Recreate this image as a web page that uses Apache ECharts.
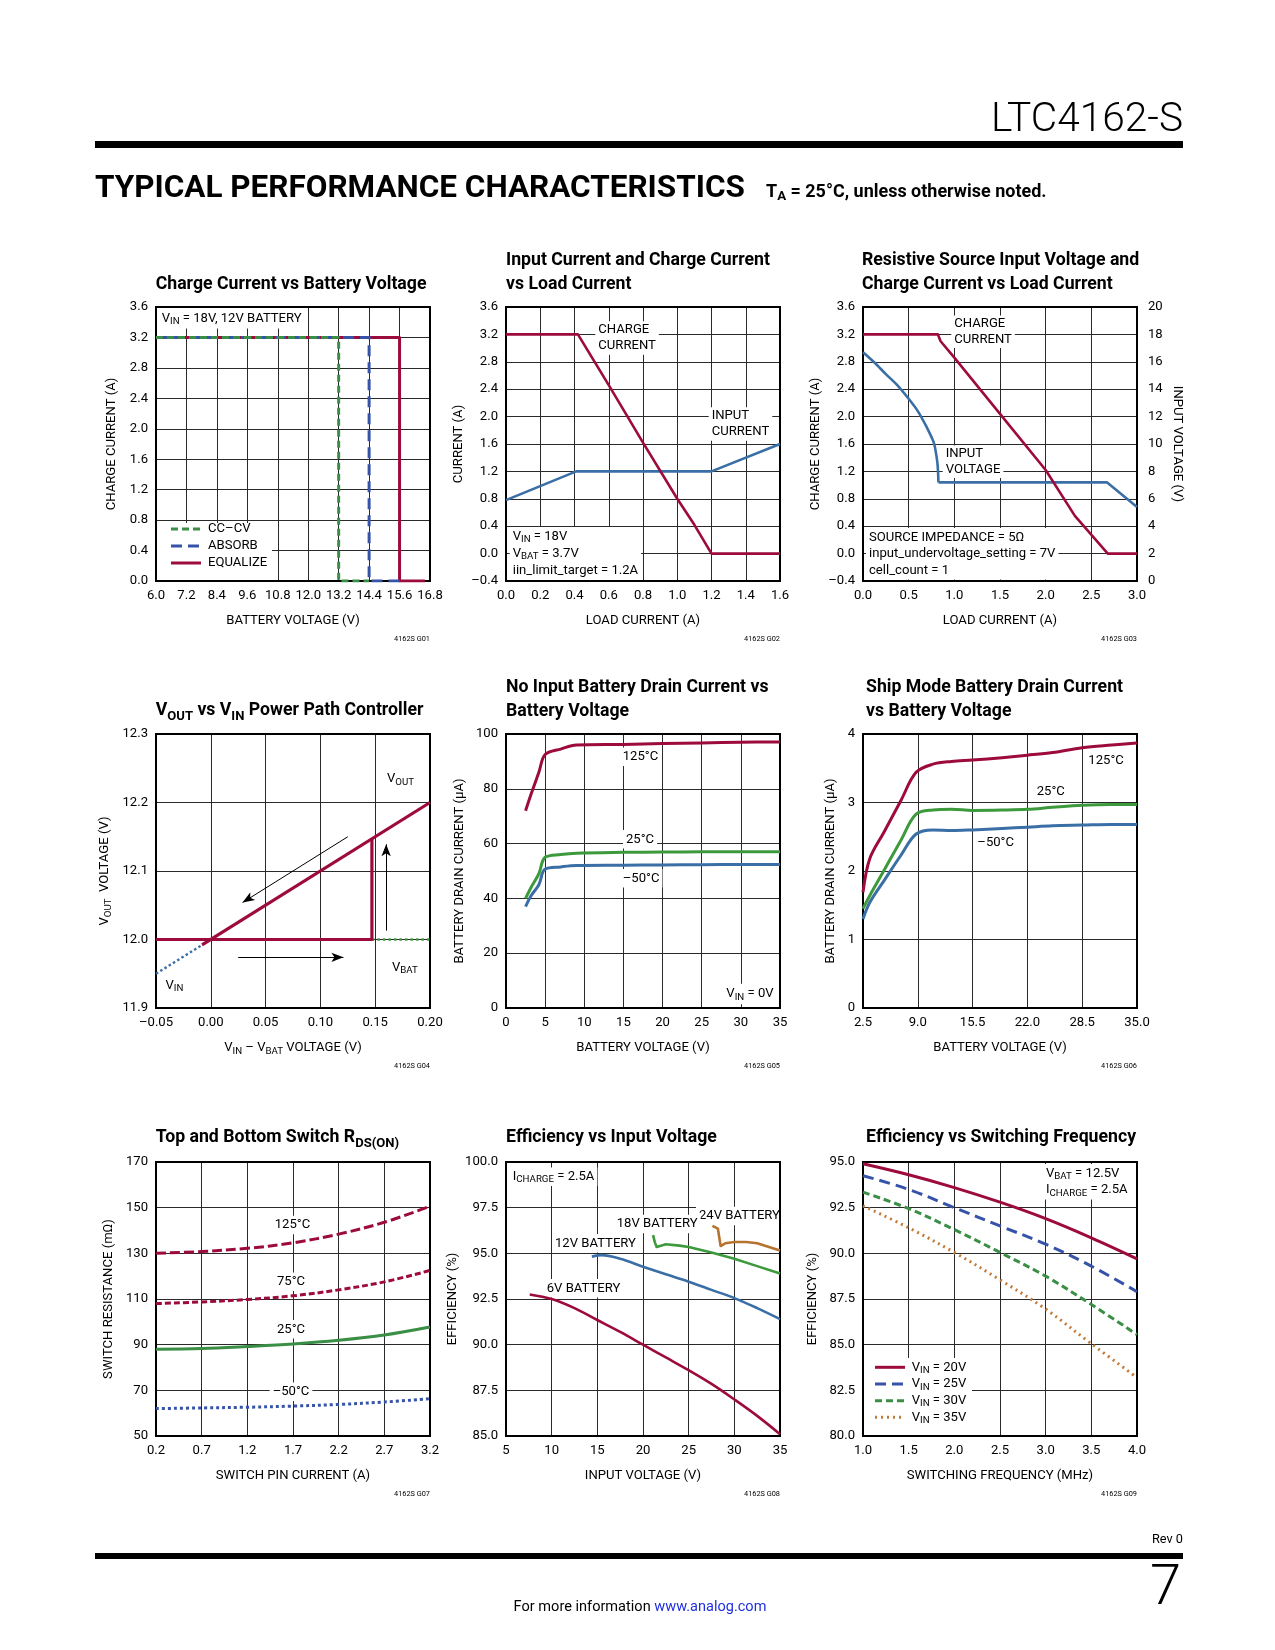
<!DOCTYPE html>
<html><head><meta charset="utf-8">
<script src="https://cdn.jsdelivr.net/npm/echarts@6/dist/echarts.min.js"></script>
<style>html,body{margin:0;padding:0;background:#fff}#page{width:1275px;height:1650px}</style>
</head><body><div id="page"></div>
<script>
// ================= DATA =================
const titles = [
  'Charge Current vs Battery Voltage',
  'Input Current and Charge Current\nvs Load Current',
  'Resistive Source Input Voltage and\nCharge Current vs Load Current',
  'V_{OUT} vs V_{IN} Power Path Controller',
  'No Input Battery Drain Current vs\nBattery Voltage',
  'Ship Mode Battery Drain Current\nvs Battery Voltage',
  'Top and Bottom Switch R_{DS(ON)}',
  'Efficiency vs Input Voltage',
  'Efficiency vs Switching Frequency'
];
const xNames = ['BATTERY VOLTAGE (V)','LOAD CURRENT (A)','LOAD CURRENT (A)','V_{IN} \u2013 V_{BAT} VOLTAGE (V)',
  'BATTERY VOLTAGE (V)','BATTERY VOLTAGE (V)','SWITCH PIN CURRENT (A)','INPUT VOLTAGE (V)','SWITCHING FREQUENCY (MHz)'];
const yNames = ['CHARGE CURRENT (A)','CURRENT (A)','CHARGE CURRENT (A)','V_{OUT}  VOLTAGE (V)',
  'BATTERY DRAIN CURRENT (\u00b5A)','BATTERY DRAIN CURRENT (\u00b5A)','SWITCH RESISTANCE (m\u03a9)','EFFICIENCY (%)','EFFICIENCY (%)'];
const y3RightName = 'INPUT VOLTAGE (V)';
const figIds = ['4162S G01','4162S G02','4162S G03','4162S G04','4162S G05','4162S G06','4162S G07','4162S G08','4162S G09'];
// [min, max, interval, decimals]
const xRanges = [[6.0,16.8,1.2,1],[0,1.6,0.2,1],[0,3.0,0.5,1],[-0.05,0.20,0.05,2],[0,35,5,0],[2.5,35,6.5,1],[0.2,3.2,0.5,1],[5,35,5,0],[1.0,4.0,0.5,1]];
const yRanges = [[0,3.6,0.4,1],[-0.4,3.6,0.4,1],[-0.4,3.6,0.4,1],[11.9,12.3,0.1,1],[0,100,20,0],[0,4,1,0],[50,170,20,0],[85,100,2.5,1],[80,95,2.5,1]];
const y3Right = [0,20,2,0];

// Chart 1: charge current vs battery voltage
const c1_ccv      = [[6.0,3.2],[13.2,3.2],[13.2,0],[14.4,0]];
const c1_absorb   = [[6.0,3.2],[14.4,3.2],[14.4,0],[15.6,0]];
const c1_equalize = [[6.0,3.2],[15.6,3.2],[15.6,0],[16.6,0]];

// Chart 2
const c2_chargeX = [0, 0.42, 0.6, 0.8, 1.0, 1.1, 1.2, 1.6];
const c2_charge  = [3.2, 3.2, 2.46, 1.62, 0.8, 0.42, 0, 0];
const c2_inputX  = [0, 0.41, 1.2, 1.6];
const c2_input   = [0.78, 1.2, 1.2, 1.6];

// Chart 3
const c3_chargeX = [0, 0.82, 0.85, 1.0, 1.5, 2.0, 2.32, 2.68, 3.0];
const c3_charge  = [3.2, 3.2, 3.1, 2.86, 2.04, 1.22, 0.55, 0, 0];
const c3_vinCurveX = [0, 0.125, 0.25, 0.375, 0.5, 0.6, 0.7, 0.75, 0.78, 0.8, 0.815, 0.822, 0.826];
const c3_vinCurve  = [16.7, 15.95, 15.1, 14.3, 13.3, 12.4, 11.2, 10.5, 10.0, 9.3, 8.6, 7.9, 7.2];
const c3_vinFlatX  = [0.826, 2.67, 3.0];
const c3_vinFlat   = [7.2, 7.2, 5.4];

// Chart 4
const c4_voutFlat = [[-0.05,12.0],[0.147,12.0],[0.147,12.148]];
const c4_voutRamp = [[-0.008,11.992],[0.2,12.2]];
const c4_vin      = [[-0.05,11.95],[-0.008,11.992]];
const c4_vbat     = [[0.147,12.0],[0.2,12.0]];
const c4_arrows   = [[[0.125,12.15],[0.029,12.054]],[[0.025,11.974],[0.121,11.974]],[[0.16,12.013],[0.16,12.139]]];

// Chart 5
const c5_x    = [2.5, 3.2, 4.2, 5, 7, 9, 15, 20, 25, 30, 35];
const c5_125  = [72, 78, 86, 92.5, 94.5, 96, 96.2, 96.5, 96.7, 97, 97.1];
const c5_25   = [40, 44, 49, 55, 56, 56.5, 56.8, 56.9, 57, 57, 57];
const c5_m50  = [37, 41, 45, 50.7, 51.5, 52, 52.1, 52.2, 52.3, 52.4, 52.4];

// Chart 6
const c6_x    = [2.5, 3.3, 5, 7, 8.8, 10.8, 13, 15.5, 19, 22, 25, 28.5, 32, 35];
const c6_125  = [1.69, 2.18, 2.57, 3.03, 3.44, 3.56, 3.6, 3.62, 3.655, 3.69, 3.73, 3.8, 3.84, 3.87];
const c6_25   = [1.45, 1.64, 2.01, 2.45, 2.83, 2.89, 2.9, 2.885, 2.89, 2.9, 2.93, 2.96, 2.97, 2.97];
const c6_m50  = [1.3, 1.54, 1.86, 2.23, 2.54, 2.6, 2.59, 2.6, 2.62, 2.64, 2.66, 2.67, 2.68, 2.68];

// Chart 7
const c7_x    = [0.2, 0.7, 1.2, 1.7, 2.2, 2.7, 3.2];
const c7_125  = [130, 130.8, 132.2, 134.6, 138.4, 143.6, 150.6];
const c7_75   = [108, 108.7, 109.8, 111.4, 114, 117.5, 122.5];
const c7_25   = [88, 88.3, 89.2, 90.3, 91.9, 94.2, 97.7];
const c7_m50  = [62, 62.3, 62.6, 63.1, 63.8, 64.9, 66.3];

// Chart 8
const c8_6vX  = [7.6, 10, 12.5, 15, 17.5, 20, 22.5, 25, 27.5, 30, 32.5, 35];
const c8_6v   = [92.75, 92.5, 92.0, 91.35, 90.7, 90.0, 89.3, 88.6, 87.85, 87.0, 86.1, 85.1];
const c8_12vX = [14.4, 15.5, 17.5, 20, 22.5, 25, 27.5, 30, 32.5, 35];
const c8_12v  = [94.82, 94.9, 94.7, 94.27, 93.85, 93.45, 93.0, 92.55, 92.0, 91.4];
const c8_18vX = [21.1, 21.3, 21.5, 22.5, 24, 25, 27.5, 30, 32.5, 35];
const c8_18v  = [96.0, 95.6, 95.35, 95.5, 95.42, 95.35, 95.05, 94.7, 94.3, 93.9];
const c8_24vX = [27.6, 28.2, 28.5, 29.0, 30, 31.3, 32.5, 35];
const c8_24v  = [96.5, 96.35, 95.4, 95.55, 95.62, 95.62, 95.55, 95.15];

// Chart 9
const c9_x    = [1.0, 1.5, 2.0, 2.5, 3.0, 3.5, 4.0];
const c9_20v  = [94.9, 94.3, 93.6, 92.8, 91.9, 90.85, 89.7];
const c9_25v  = [94.25, 93.5, 92.5, 91.5, 90.5, 89.3, 87.9];
const c9_30v  = [93.35, 92.45, 91.3, 90.05, 88.75, 87.2, 85.55];
const c9_35v  = [92.6, 91.4, 90.05, 88.55, 86.95, 85.05, 83.2];

// ================= STYLE / LAYOUT =================
const RED='#9d0b3c', BLUE='#3a6fa6', GREEN='#3c9a3c', GREEN_D='#3a8e45', ROYAL='#3653a8', BROWN='#b5732f', ORANGE='#c47a38';
const GRIDC = '#2a2a2a';
const GRIDS = [[156,307],[506,307],[863,307],[156,734],[506,734],[863,734],[156,1162],[506,1162],[863,1162]];
const GW = 274, GH = 274;

const cv = document.createElement('canvas').getContext('2d');
function mw(font, s){ cv.font = font; return cv.measureText(s).width; }
function has(f){ const t='abcdefghijklmnopqrstuvwxyzABCDEF0123456789'; return Math.abs(mw(`40px '${f}', monospace`, t) - mw('40px monospace', t)) > 1; }
const NARROW = has('Liberation Sans Narrow');
const FAM = NARROW ? "'Liberation Sans Narrow', Roboto, sans-serif" : "Roboto, 'Liberation Sans', sans-serif";
function fit(s, target, weight){ weight = weight || 'normal'; return 20 * target / mw(`${weight} 20px ${FAM}`, s); }
const FS = Math.min(15.5, (fit('BATTERY VOLTAGE (V)',130) + fit('iin_limit_target = 1.2A',127) + fit('SOURCE IMPEDANCE = 5\u03a9',157.7)) / 3);
const LH = 16.5;
const FT = fit('Charge Current vs Battery Voltage', 271, 'bold');

function rt(s){
  return s.split('\n').map(line => {
    let out = '', re = /_\{([^}]*)\}/g, last = 0, m;
    while ((m = re.exec(line))) {
      if (m.index > last) out += '{n|' + line.slice(last, m.index) + '}';
      out += '{s|' + m[1] + '}';
      last = re.lastIndex;
    }
    if (last < line.length) out += '{n|' + line.slice(last) + '}';
    return out;
  }).join('\n');
}
function rich(fs, weight, lh, color){
  color = color || '#000';
  return {
    n: {fontSize: fs, fontFamily: FAM, fontWeight: weight, lineHeight: lh, color: color, fill: color},
    s: {fontSize: fs * 0.74, fontFamily: FAM, fontWeight: weight, lineHeight: fs * 0.5, verticalAlign: 'bottom', color: color, fill: color},
    b: {fontSize: fs, fontFamily: FAM, fontWeight: weight, lineHeight: lh, color: '#1f2fe0', fill: '#1f2fe0'}
  };
}
const fmt = d => v => { if (Math.abs(v) < 1e-9) v = 0; return (v < 0 ? '\u2013' : '') + Math.abs(v).toFixed(d); };
const zip = (xs, ys) => xs.map((x, k) => [x, ys[k]]);

// ================= AXES =================
const yNameCenter = [44, 44, 43.5, 51, 46, 32.5, 47.5, 51.5, 50];
function nameStyle(){ return {color:'#000', fontFamily: FAM, fontSize: FS, lineHeight: LH, rich: rich(FS, 'normal', LH)}; }
function labelStyle(d, margin){ return {margin: margin, color:'#000', fontFamily: FAM, fontSize: FS, formatter: fmt(d), showMinLabel: true, showMaxLabel: true, hideOverlap: false}; }

const xAxis = xRanges.map((r, i) => ({
  gridIndex: i, type: 'value', min: r[0], max: r[1], interval: r[2],
  axisLine: {show: false}, axisTick: {show: false},
  splitLine: {show: true, lineStyle: {color: GRIDC, width: 1}},
  axisLabel: labelStyle(r[3], 8),
  name: rt(xNames[i]), nameLocation: 'middle', nameGap: 40 - LH / 2, nameTextStyle: nameStyle()
}));
const yAxis = yRanges.map((r, i) => ({
  gridIndex: i, type: 'value', min: r[0], max: r[1], interval: r[2], position: 'left',
  axisLine: {show: false}, axisTick: {show: false},
  splitLine: {show: true, lineStyle: {color: GRIDC, width: 1}},
  axisLabel: labelStyle(r[3], 8),
  name: rt(yNames[i]), nameLocation: 'middle', nameGap: yNameCenter[i] - LH / 2, nameTextStyle: nameStyle()
}));
yAxis.push({
  gridIndex: 2, type: 'value', min: y3Right[0], max: y3Right[1], interval: y3Right[2], position: 'right',
  axisLine: {show: false}, axisTick: {show: false}, splitLine: {show: false},
  axisLabel: labelStyle(y3Right[3], 11),
  name: y3RightName, nameLocation: 'middle', nameRotate: -90, nameGap: 40.5 - LH / 2, nameTextStyle: nameStyle()
});

// ================= SERIES =================
function line(i, data, color, width, type, extra, yIdx){
  return Object.assign({
    type: 'line', xAxisIndex: i, yAxisIndex: yIdx == null ? i : yIdx, data: data,
    symbol: 'none', showSymbol: false, silent: true, animation: false, z: 3,
    lineStyle: {color: color, width: width, type: type || 'solid', cap: 'butt', join: 'round'},
    itemStyle: {color: color}
  }, extra || {});
}
const SM = {smooth: 0.35};
const series = [
  line(0, c1_equalize, RED, 3),
  line(0, c1_absorb, ROYAL, 3, [11, 6]),
  line(0, c1_ccv, GREEN_D, 3, [7, 4]),

  line(1, zip(c2_inputX, c2_input), BLUE, 2.6),
  line(1, zip(c2_chargeX, c2_charge), RED, 2.6),

  line(2, zip(c3_vinCurveX, c3_vinCurve), BLUE, 2.6, 'solid', {smooth: 0.3}, 9),
  line(2, zip(c3_vinFlatX, c3_vinFlat), BLUE, 2.6, 'solid', null, 9),
  line(2, zip(c3_chargeX, c3_charge), RED, 2.6),

  line(3, c4_vin, BLUE, 2.4, [2.5, 2.5]),
  line(3, c4_vbat, GREEN, 2.4, [2.5, 3], {
    markLine: {
      silent: true, animation: false, symbol: ['none', 'arrow'], symbolSize: 9,
      lineStyle: {color: '#000', width: 1, type: 'solid'}, label: {show: false}, emphasis: {disabled: true},
      data: c4_arrows.map(a => [{coord: a[0], symbol: 'none'}, {coord: a[1], symbol: 'arrow', symbolSize: [7, 12]}])
    }
  }),
  line(3, c4_voutFlat, RED, 3.2),
  line(3, c4_voutRamp, RED, 3.2),

  line(4, zip(c5_x, c5_m50), BLUE, 3, 'solid', SM),
  line(4, zip(c5_x, c5_25), GREEN, 3, 'solid', SM),
  line(4, zip(c5_x, c5_125), RED, 3, 'solid', SM),

  line(5, zip(c6_x, c6_m50), BLUE, 3, 'solid', SM),
  line(5, zip(c6_x, c6_25), GREEN, 3, 'solid', SM),
  line(5, zip(c6_x, c6_125), RED, 3, 'solid', SM),

  line(6, zip(c7_x, c7_125), RED, 3, [10, 4], SM),
  line(6, zip(c7_x, c7_75), RED, 3, [6, 3], SM),
  line(6, zip(c7_x, c7_25), GREEN_D, 3, 'solid', SM),
  line(6, zip(c7_x, c7_m50), ROYAL, 3, [3, 3], SM),

  line(7, zip(c8_6vX, c8_6v), RED, 2.6, 'solid', SM),
  line(7, zip(c8_12vX, c8_12v), BLUE, 2.6, 'solid', SM),
  line(7, zip(c8_18vX, c8_18v), GREEN, 2.6),
  line(7, zip(c8_24vX, c8_24v), BROWN, 2.6),

  line(8, zip(c9_x, c9_35v), ORANGE, 3, [2, 4], SM),
  line(8, zip(c9_x, c9_30v), GREEN_D, 3, [7, 4], SM),
  line(8, zip(c9_x, c9_25v), ROYAL, 3, [11, 6], SM),
  line(8, zip(c9_x, c9_20v), RED, 3, 'solid', SM)
];

// ================= TITLES =================
const TL = [[155.7,272.6],[506,249.3],[862,249.3],[155.7,699.3],[506,676],[866,676],[155.7,1126.3],[506,1126.3],[866,1126.3]];
const title = titles.map((t, k) => ({
  text: rt(t), left: TL[k][0], top: TL[k][1], padding: 0,
  textStyle: {fontFamily: FAM, fontWeight: 'bold', fontSize: FT, lineHeight: 23.5, color: '#000', rich: rich(FT, 'bold', 23.5)}
}));

// ================= GRAPHICS (annotations) =================
const G = [];
function T(x, y, s, o){
  o = o || {};
  const fs = o.fs || FS, w = o.weight || 'normal', lh = o.lh || LH, color = o.color || '#000';
  const align = o.align || 'left', va = o.va || 'middle';
  const style = {text: o.raw ? s : rt(s), rich: rich(fs, w, lh, color), fill: color,
    fontFamily: FAM, fontSize: fs, fontWeight: w, lineHeight: lh,
    align: align, verticalAlign: va, textAlign: align, textVerticalAlign: va};
  let dx = 0;
  if (o.bg) {
    const pad = o.pad || [1, 3];
    style.backgroundColor = '#fff'; style.padding = pad;
    if (align === 'left') dx = -pad[1]; else if (align === 'right') dx = pad[1];
  }
  G.push({type: 'text', x: x + dx, y: y, z: o.z || 1.5, silent: true, style: style});
}
function R(x, y, w, h, fill, z){ G.push({type: 'rect', silent: true, z: z || 1, shape: {x: x, y: y, width: w, height: h}, style: {fill: fill || '#fff'}}); }
function L(x1, y1, x2, y2, color, width, dash){ G.push({type: 'line', silent: true, z: 1.5, shape: {x1: x1, y1: y1, x2: x2, y2: y2}, style: {stroke: color, lineWidth: width, lineDash: dash || null}}); }

// frames and figure ids
GRIDS.forEach((g, i) => {
  G.push({type: 'rect', silent: true, z: 1.8, shape: {x: g[0], y: g[1], width: GW, height: GH}, style: {fill: 'none', stroke: '#000', lineWidth: 2}});
  T(g[0] + GW, g[1] + GH + 58.5, figIds[i], {fs: fit('4162S G01', 36), align: 'right'});
});

// Chart 1
T(161.7, 318.3, 'V_{IN} = 18V, 12V BATTERY', {bg: true, pad: [2, 3]});
R(157, 523, 115, 57);
L(171, 529, 201, 529, GREEN_D, 3, [7, 4]);
L(171, 546, 201, 546, ROYAL, 3, [11, 6]);
L(171, 563, 201, 563, RED, 3);
T(208, 529, 'CC\u2013CV');
T(208, 546, 'ABSORB');
T(208, 563, 'EQUALIZE');

// Chart 2
T(598.3, 338, 'CHARGE\nCURRENT', {bg: true, lh: 15.7});
T(711.7, 424, 'INPUT\nCURRENT', {bg: true, lh: 15.7});
T(512.7, 553.5, 'V_{IN} = 18V\nV_{BAT} = 3.7V\niin_limit_target = 1.2A', {bg: true, lh: 17});

// Chart 3
T(954.3, 331.7, 'CHARGE\nCURRENT', {bg: true, lh: 15.3});
T(945.7, 461.7, 'INPUT\nVOLTAGE', {bg: true, lh: 15.3});
T(869, 553.8, 'SOURCE IMPEDANCE = 5\u03a9\ninput_undervoltage_setting = 7V\ncell_count = 1', {bg: true, lh: 16.5});

// Chart 4
T(387, 779, 'V_{OUT}');
T(392, 967.6, 'V_{BAT}');
T(165.5, 985.5, 'V_{IN}');

// Chart 5
T(622.7, 756.7, '125\u00b0C', {bg: true});
T(626, 839.3, '25\u00b0C', {bg: true});
T(622.7, 878.3, '\u201350\u00b0C', {bg: true});
T(773.6, 994, 'V_{IN} = 0V', {align: 'right', bg: true, pad: [2, 3]});

// Chart 6
T(1088.3, 760.7, '125\u00b0C');
T(1036.7, 791.7, '25\u00b0C');
T(977.3, 842.7, '\u201350\u00b0C');

// Chart 7
T(292.5, 1225, '125\u00b0C', {bg: true, align: 'center'});
T(291, 1281.7, '75\u00b0C', {bg: true, align: 'center'});
T(291, 1329.3, '25\u00b0C', {bg: true, align: 'center'});
T(291, 1391.7, '\u201350\u00b0C', {bg: true, align: 'center'});

// Chart 8
T(512.7, 1176.7, 'I_{CHARGE} = 2.5A', {bg: true});
T(699, 1216, '24V BATTERY', {bg: true});
T(616.7, 1224, '18V BATTERY', {bg: true});
T(555, 1243.3, '12V BATTERY', {bg: true});
T(546.7, 1288.3, '6V BATTERY', {bg: true});

// Chart 9
T(1046, 1181.7, 'V_{BAT} = 12.5V\nI_{CHARGE} = 2.5A', {bg: true, lh: 16.7});
R(863, 1358, 109, 78);
const c9Leg = [['V_{IN} = 20V', RED, null], ['V_{IN} = 25V', ROYAL, [11, 6]], ['V_{IN} = 30V', GREEN_D, [7, 4]], ['V_{IN} = 35V', ORANGE, [2, 4]]];
c9Leg.forEach((it, k) => {
  const y = 1367.3 + k * 16.67;
  L(875, y, 905, y, it[1], 3, it[2]);
  T(911.7, y, it[0]);
});

// Page header / footer
const headW = NARROW ? 'normal' : 300;
T(1183, 121, 'LTC4162-S', {fs: fit('LTC4162-S', 192, headW), weight: headW, align: 'right', lh: 50, z: 1});
R(95, 141, 1088, 7, '#000');
T(95, 189, 'TYPICAL PERFORMANCE CHARACTERISTICS', {fs: fit('TYPICAL PERFORMANCE CHARACTERISTICS', 650, 'bold'), weight: 'bold', lh: 34, z: 1});
T(766, 193, 'T_{A} = 25\u00b0C, unless otherwise noted.', {fs: fit('TA = 25\u00b0C, unless otherwise noted.', 283, 'bold'), weight: 'bold', lh: 20, z: 1});
R(95, 1553, 1088, 6, '#000');
T(1183, 1540, 'Rev 0', {fs: fit('Rev 0', 31), align: 'right', z: 1});
T(1181, 1590, '7', {fs: 56, weight: headW, align: 'right', lh: 56, z: 1});
T(640, 1607, '{n|For more information }{b|www.analog.com}', {raw: true, fs: fit('For more information www.analog.com', 253), align: 'center', z: 1});

// ================= OPTION =================
const option = {
  backgroundColor: '#fff',
  animation: false,
  textStyle: {fontFamily: FAM},
  title: title,
  grid: GRIDS.map(g => ({left: g[0], top: g[1], width: GW, height: GH, containLabel: false, outerBoundsMode: 'none', show: false})),
  xAxis: xAxis,
  yAxis: yAxis,
  series: series,
  graphic: {elements: G}
};
const chart = echarts.init(document.getElementById('page'), null, {renderer: 'canvas', width: 1275, height: 1650});
chart.setOption(option);
</script></body></html>
